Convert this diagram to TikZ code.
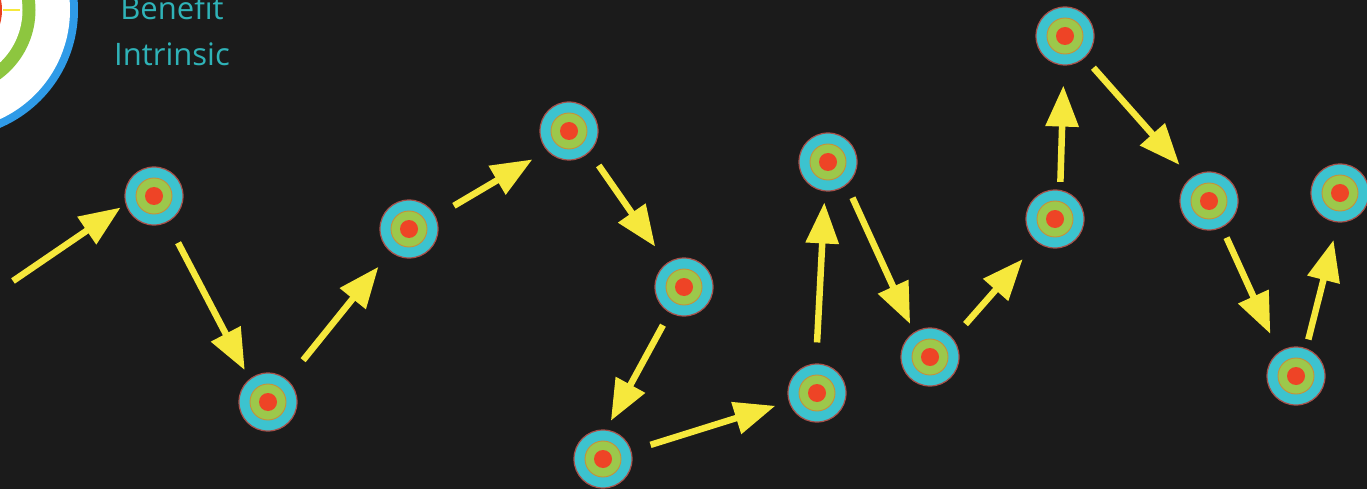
\documentclass[tikz,border=0pt]{standalone}
\usepackage{fontspec}
\setmainfont{Open Sans}
\usetikzlibrary{arrows.meta}
\definecolor{bg}{HTML}{1B1B1B}
\definecolor{tcyan}{HTML}{3CC3CF}
\definecolor{tgreen}{HTML}{9CC84B}
\definecolor{tred}{HTML}{EE4426}
\definecolor{toutline}{HTML}{A8504A}
\definecolor{torange}{HTML}{C8903A}
\definecolor{ayellow}{HTML}{F6E83C}
\definecolor{ttext}{HTML}{2FB3B8}
\definecolor{bblue}{HTML}{2F9BE8}
\definecolor{bgreen}{HTML}{8DC63F}
\definecolor{bred}{HTML}{E8401F}
\tikzset{
  tgt/.style={circle, minimum size=58pt, inner sep=0pt, fill=tcyan, draw=toutline, line width=1.2pt,
    path picture={
      \fill[tgreen, draw=torange, line width=0.9pt] (path picture bounding box.center) circle (18pt);
      \fill[tred] (path picture bounding box.center) circle (9pt);
    }},
  arr/.style={draw=ayellow, line width=6.5pt, -{Triangle[length=41pt,width=32pt]}},
  lbl/.style={text=ttext, font=\fontsize{31}{37}\selectfont, anchor=base, inner sep=0pt}
}
\begin{document}
\begin{tikzpicture}[x=1pt,y=-1pt]
\fill[bg] (0,0) rectangle (1367,489);
\useasboundingbox (0,0) rectangle (1367,489);
\begin{scope}
  \clip (0,0) rectangle (1367,489);
  \fill[bblue] (-50,10) circle (128pt);
  \fill[white] (-50,10) circle (120pt);
  \fill[bgreen] (-50,10) circle (85.5pt);
  \fill[white] (-50,10) circle (72.5pt);
  \fill[bred] (-50,10) circle (52pt);
  \draw[ayellow, line width=2.5pt] (3,10) -- (20,10);
\end{scope}
\node[lbl] (tb) at (172,20) {Benefit};
\node[lbl] (ti) at (172,66) {Intrinsic};

\node[tgt] (n1) at (154,196) {};
\node[tgt] (n2) at (268,402) {};
\node[tgt] (n3) at (409,229) {};
\node[tgt] (n4) at (569,131) {};
\node[tgt] (n5) at (684,287) {};
\node[tgt] (n6) at (603,459) {};
\node[tgt] (n7) at (817,393) {};
\node[tgt] (n8) at (828,162) {};
\node[tgt] (n9) at (930,357) {};
\node[tgt] (n10) at (1055,219) {};
\node[tgt] (n11) at (1065,36) {};
\node[tgt] (n12) at (1209,201) {};
\node[tgt] (n13) at (1296,376) {};
\node[tgt] (n14) at (1340,193) {};
\coordinate (s0) at (13,281);

\draw[arr, shorten >=6pt] (s0) -- (n1.196);
\draw[arr, shorten <=23pt, shorten >=10pt] (n1.297.6) -- (n2.129.8);
\draw[arr, shorten <=25pt, shorten >=19pt] (n2.49.5) -- (n3.231.7);
\draw[arr, shorten <=21pt, shorten >=17pt] (n3.25) -- (n4.222.4);
\draw[arr, shorten <=16pt, shorten >=20pt] (n4.314.1) -- (n5.126.6);
\draw[arr, shorten <=14pt, shorten >=10pt] (n5.241) -- (n6.84);
\draw[arr, shorten <=20pt, shorten >=14pt] (n6.16.6) -- (n7.197.6);
\draw[arr, shorten <=21pt, shorten >=11pt] (n7.92.3) -- (n8.264.3);
\draw[arr, shorten <=14pt, shorten >=9pt] (n8.309.3) -- (n9.123.3);
\draw[arr, shorten <=19pt, shorten >=22pt] (n9.39) -- (n10.233.8);
\draw[arr, shorten <=8pt, shorten >=20pt] (n10.80.5) -- (n11.268.8);
\draw[arr, shorten <=13pt, shorten >=17pt] (n11.312.1) -- (n12.128.9);
\draw[arr, shorten <=11pt, shorten >=20pt] (n12.296.6) -- (n13.126.6);
\draw[arr, shorten <=9pt, shorten >=18pt] (n13.70.1) -- (n14.266.3);
\end{tikzpicture}
\end{document}
